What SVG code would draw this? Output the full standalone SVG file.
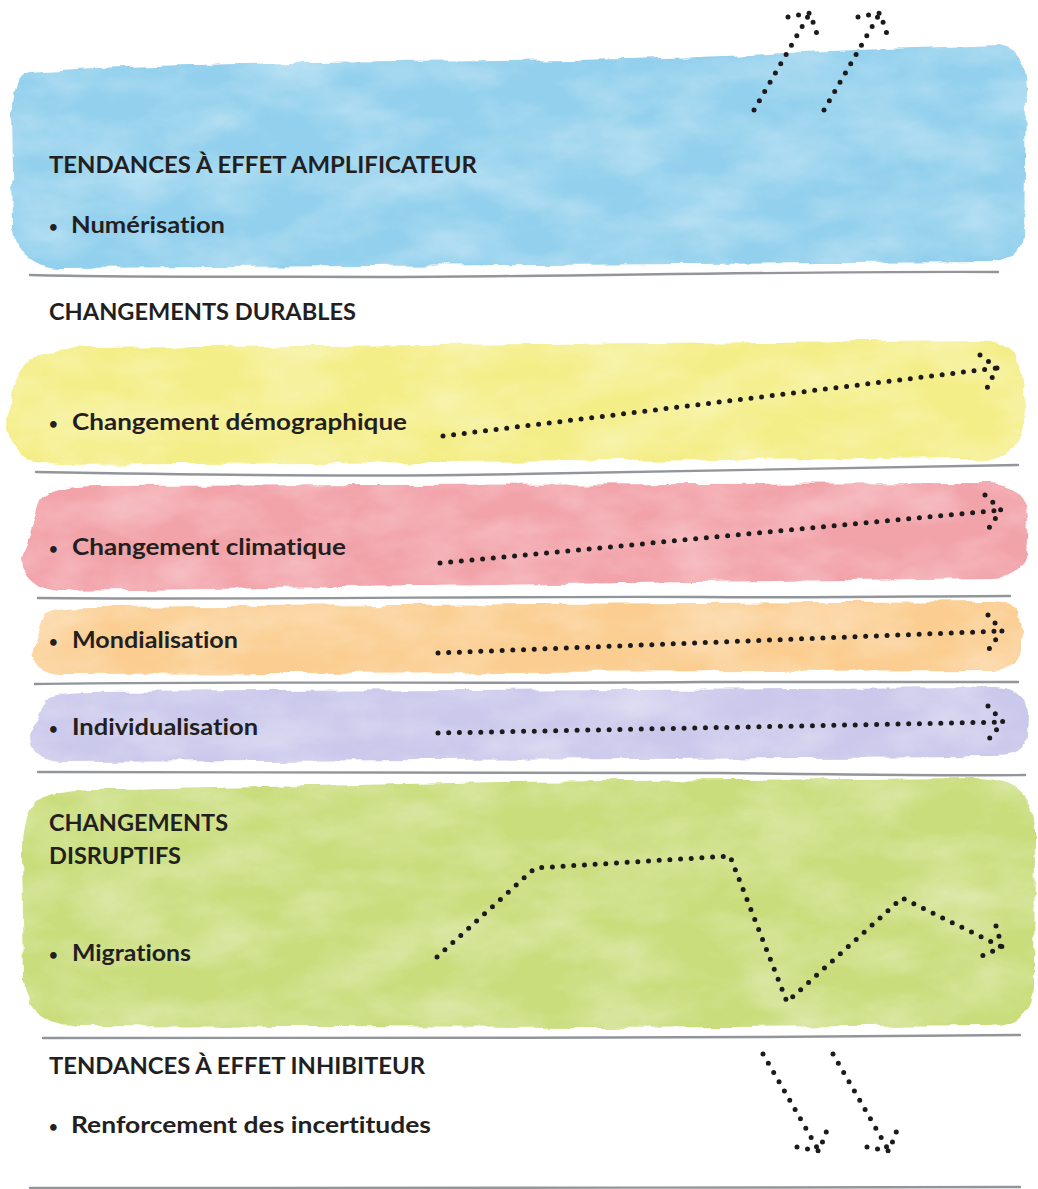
<svg xmlns="http://www.w3.org/2000/svg" width="1038" height="1189" viewBox="0 0 1038 1189">
<defs>
<style>
.h{font-family:"Lato","Liberation Sans",Arial,sans-serif;font-weight:700;font-size:23.5px;fill:#231f20;font-variant-ligatures:none;font-feature-settings:"liga" 0}
.b{font-size:15px}
.rule{fill:none;stroke:#7f8489;stroke-width:2.4;stroke-linecap:round;opacity:.85}
.dots{fill:none;stroke:#1c1a1b;stroke-width:5;stroke-linecap:round;stroke-linejoin:round;stroke-dasharray:0 10.7}
.band{filter:url(#wc)}
</style>
<filter id="wc" x="-4%" y="-20%" width="108%" height="140%">
<feTurbulence type="fractalNoise" baseFrequency="0.03 0.06" numOctaves="3" seed="2" result="n"/>
<feDisplacementMap in="SourceGraphic" in2="n" scale="8" xChannelSelector="R" yChannelSelector="G" result="d"/>
<feTurbulence type="fractalNoise" baseFrequency="0.012 0.025" numOctaves="4" seed="9" result="n2"/>
<feColorMatrix in="n2" type="matrix" values="0 0 0 0 0  0 0 0 0 0  0 0 0 0 0  0.6 0 0 0 0.6" result="m"/>
<feComposite in="d" in2="m" operator="in"/>
</filter>
</defs>
<rect width="1038" height="1189" fill="#ffffff"/>

<g id="band-amplificateur">
<path class="band" fill="#93d0ed" d="M30,72 C200,58 600,66 800,52 L1000,45 Q1028,50 1026,100 L1024,238 Q1020,262 990,262 L60,268 Q18,266 14,230 L12,110 Q12,74 30,72 Z"/>
<text class="h" x="49" y="173" textLength="428" lengthAdjust="spacingAndGlyphs">TENDANCES À EFFET AMPLIFICATEUR</text>
<text class="h" y="232"><tspan class="b" x="49">•</tspan><tspan x="71" y="233" textLength="154" lengthAdjust="spacingAndGlyphs">Numérisation</tspan></text>
</g>

<g id="rules">
<path class="rule" d="M30,275 C150,278 280,276 400,277 C600,276 800,271 998,272"/>
<path class="rule" d="M36,472 C200,475 380,477 520,474 C700,470 860,468 1018,465"/>
<path class="rule" d="M38,598 C260,600 500,596 700,597 C850,598 930,596 1010,596"/>
<path class="rule" d="M35,684 C240,681 480,684 700,682 C860,681 940,682 1018,682"/>
<path class="rule" d="M38,772 C260,774 500,771 720,773 C880,775 960,776 1025,775"/>
<path class="rule" d="M43,1038 C260,1036 520,1039 760,1037 C900,1036 970,1036 1020,1035"/>
<path class="rule" d="M30,1188 C300,1186 700,1189 1020,1187" opacity=".35"/>
</g>

<g id="durables-titre">
<text class="h" x="49" y="320" textLength="307" lengthAdjust="spacingAndGlyphs">CHANGEMENTS DURABLES</text>
</g>

<g id="band-demographique">
<path class="band" fill="#f4ee88" d="M20,372 Q28,350 80,348 L980,340 Q1022,342 1024,380 L1024,428 Q1020,456 985,458 L60,465 Q8,462 6,420 Z"/>
<text class="h" y="429"><tspan class="b" x="49">•</tspan><tspan x="72" y="430" textLength="335" lengthAdjust="spacingAndGlyphs">Changement démographique</tspan></text>
</g>

<g id="band-climatique">
<path class="band" fill="#f2a2a9" d="M40,500 Q50,486 100,486 L990,483 Q1028,485 1028,520 L1026,555 Q1022,578 990,578 L60,591 Q24,589 22,560 Z"/>
<text class="h" y="554"><tspan class="b" x="49">•</tspan><tspan x="72" y="555" textLength="274" lengthAdjust="spacingAndGlyphs">Changement climatique</tspan></text>
</g>

<g id="band-mondialisation">
<path class="band" fill="#fbcd90" d="M45,614 Q55,607 90,607 L995,601 Q1022,603 1022,630 L1022,650 Q1020,668 995,670 L60,674 Q33,672 33,650 Z"/>
<text class="h" y="647"><tspan class="b" x="49">•</tspan><tspan x="72" y="648" textLength="166" lengthAdjust="spacingAndGlyphs">Mondialisation</tspan></text>
</g>

<g id="band-individualisation">
<path class="band" fill="#cac8eb" d="M45,700 Q55,692 90,692 L995,687 Q1028,689 1028,715 L1027,738 Q1024,757 995,757 L60,762 Q30,760 30,735 Z"/>
<text class="h" y="734"><tspan class="b" x="49">•</tspan><tspan x="72" y="735" textLength="186" lengthAdjust="spacingAndGlyphs">Individualisation</tspan></text>
</g>

<g id="band-disruptifs">
<path class="band" fill="#c9dd7c" d="M40,800 Q60,788 120,790 L500,782 L980,778 Q1034,780 1035,830 L1034,990 Q1030,1024 990,1025 L600,1028 L80,1026 Q26,1022 24,980 L22,850 Q22,806 40,800 Z"/>
<text class="h" x="49" y="831" textLength="179" lengthAdjust="spacingAndGlyphs">CHANGEMENTS</text>
<text class="h" x="49" y="864" textLength="132" lengthAdjust="spacingAndGlyphs">DISRUPTIFS</text>
<text class="h" y="960"><tspan class="b" x="49">•</tspan><tspan x="72" y="961" textLength="119" lengthAdjust="spacingAndGlyphs">Migrations</tspan></text>
</g>

<g id="inhibiteur">
<text class="h" x="49" y="1074" textLength="376" lengthAdjust="spacingAndGlyphs">TENDANCES À EFFET INHIBITEUR</text>
<text class="h" y="1132"><tspan class="b" x="49">•</tspan><tspan x="71" y="1133" textLength="360" lengthAdjust="spacingAndGlyphs">Renforcement des incertitudes</tspan></text>
</g>

<g id="connectors">
<path class="dots" d="M754,110 L810,13"/>
<path class="dots" d="M788,17 L810,13 L817,34"/>
<path class="dots" d="M824,110 L880,13"/>
<path class="dots" d="M858,17 L880,13 L887,34"/>

<path class="dots" d="M443,436 L997,368"/>
<path class="dots" d="M980,355 L997,368 L987,388"/>

<path class="dots" d="M440,563 L1001,510"/>
<path class="dots" d="M985,495 L1001,510 L989,528"/>

<path class="dots" d="M438,653 L1002,631"/>
<path class="dots" d="M988,615 L1002,631 L989,649"/>

<path class="dots" d="M438,733 L1003,722"/>
<path class="dots" d="M988,706 L1003,722 L989,739"/>

<path class="dots" d="M437,957 L535,868 L730,856 L787,1002 L902,898 L1002,947"/>
<path class="dots" d="M996,926 L1002,947 L982,956"/>

<path class="dots" d="M763,1054 L819,1151"/>
<path class="dots" d="M797,1147 L819,1151 L827,1130"/>
<path class="dots" d="M833,1054 L889,1151"/>
<path class="dots" d="M867,1147 L889,1151 L897,1130"/>
</g>
</svg>
